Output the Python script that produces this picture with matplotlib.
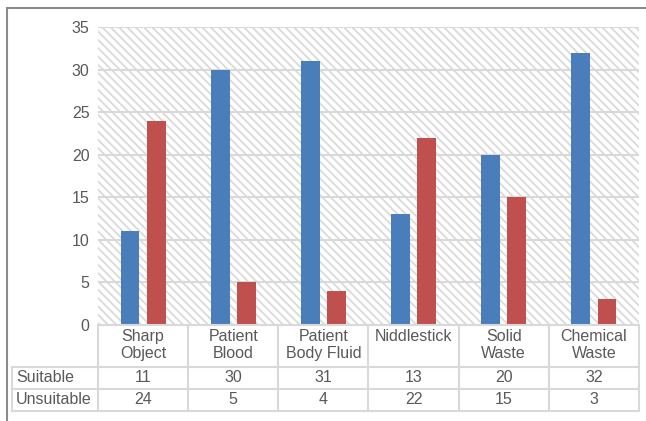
import numpy as np
import matplotlib.pyplot as plt
import matplotlib.transforms as mtransforms
from matplotlib.lines import Line2D
from matplotlib.patches import Rectangle

plt.rcParams.update({
    "font.family": ["Liberation Sans", "DejaVu Sans"],
    "font.size": 11.5,
    "hatch.linewidth": 1.3,
})

categories = ["Sharp\nObject", "Patient\nBlood", "Patient\nBody Fluid",
              "Niddlestick", "Solid\nWaste", "Chemical\nWaste"]
suitable = [11, 30, 31, 13, 20, 32]
unsuitable = [24, 5, 4, 22, 15, 3]
series_names = ["Suitable", "Unsuitable"]

W, H = 646, 421
txt = "#595959"
grid_c = "#d9d9d9"
fs = 11.5

fig = plt.figure(figsize=(W / 100, H / 100), dpi=100)

def fx(px):
    return px / W

def fy(py):
    return 1 - py / H

ax = fig.add_axes([fx(98), fy(325), fx(639) - fx(98), fy(27) - fy(325)])
ax.set_xlim(-0.5, len(categories) - 0.5)
ax.set_ylim(0, 35)

# hatched plot area
ax.add_patch(Rectangle((0, 0), 1, 1, transform=ax.transAxes, facecolor="white",
                       edgecolor="#dadada", hatch="\\\\\\\\", linewidth=0, zorder=0))
ax.set_yticks(np.arange(0, 36, 5))
ax.yaxis.grid(True, color=grid_c, linewidth=1.5, zorder=1)
ax.set_axisbelow(False)
ax.tick_params(axis="y", length=0, labelsize=fs, labelcolor=txt, pad=6)
ax.set_xticks([])
for s in ax.spines.values():
    s.set_visible(False)

x = np.arange(len(categories))
w = 0.21
ax.bar(x - 0.145, suitable, w, color="#4A7EBB", zorder=3)
ax.bar(x + 0.145, unsuitable, w, color="#C0504D", zorder=3)

# data table below the chart
bt = mtransforms.blended_transform_factory(ax.transData, fig.transFigure)
ft = fig.transFigure
lw = 1.5
x0, x1 = -0.5, len(categories) - 0.5
y_top, y_hdr, y_r1, y_r2 = 325, 367, 389, 411
left_px = 12

def hline(py, xa_data, xb_data, start_px=None):
    if start_px is None:
        fig.add_artist(Line2D([xa_data, xb_data], [fy(py), fy(py)], transform=bt,
                              color=grid_c, linewidth=lw))
    else:
        fig.add_artist(Line2D([fx(start_px), ax.transData.transform((xb_data, 0))[0] / W],
                              [fy(py), fy(py)], transform=ft, color=grid_c, linewidth=lw))

hline(y_top, x0, x1)
for py in (y_hdr, y_r1, y_r2):
    hline(py, x0, x1, start_px=left_px)
for b in np.arange(x0, x1 + 0.01, 1.0):
    fig.add_artist(Line2D([b, b], [fy(y_top), fy(y_r2)], transform=bt,
                          color=grid_c, linewidth=lw))
fig.add_artist(Line2D([fx(left_px), fx(left_px)], [fy(y_hdr), fy(y_r2)], transform=ft,
                      color=grid_c, linewidth=lw))

for i, c in enumerate(categories):
    fig.text(i, fy(329), c, transform=bt, ha="center", va="top", color=txt,
             fontsize=fs, linespacing=1.15)
for row, (name, vals) in enumerate(zip(series_names, [suitable, unsuitable])):
    ymid = fy([y_hdr, y_r1][row] + 11)
    fig.text(fx(16), ymid, name, ha="left", va="center", color=txt, fontsize=fs)
    for i, v in enumerate(vals):
        fig.text(i, ymid, str(v), transform=bt, ha="center", va="center",
                 color=txt, fontsize=fs)

# outer chart border
fig.add_artist(Rectangle((fx(7), fy(H + 10)), fx(W + 10), fy(8) - fy(H + 10), transform=ft,
                         fill=False, edgecolor="#8c8c8c", linewidth=1.5))

fig.savefig("out.png", dpi=100)
